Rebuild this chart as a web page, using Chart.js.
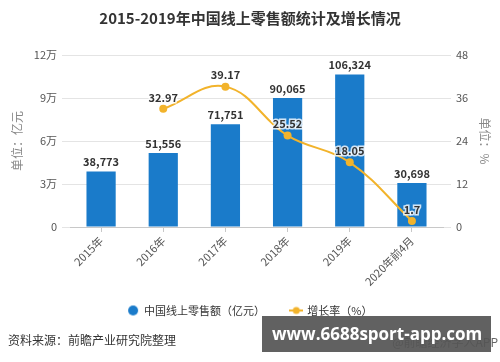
<!DOCTYPE html>
<html>
<head>
<meta charset="utf-8">
<script src="https://cdn.jsdelivr.net/npm/chart.js@4/dist/chart.umd.min.js"></script>
<style>
  html, body { margin: 0; padding: 0; background: #fff; }
  #wrap { position: relative; width: 500px; height: 362px; }
  #source { position: absolute; left: 8px; top: 331px; font: 12px "Noto Sans CJK SC", sans-serif; color: #333; }
  #brand { position: absolute; right: 2px; top: 333px; font: 12px "Noto Sans CJK SC", sans-serif; color: #666; }
  #mark { position: absolute; left: 262px; top: 316px; width: 229px; height: 36px; background: rgba(85,85,85,0.93);
          color: #fff; font: bold 17px "Open Sans", "DejaVu Sans", sans-serif; line-height: 36px; text-indent: 10px; }
</style>
</head>
<body>
<div id="wrap">
  <canvas id="chart" width="500" height="362"></canvas>
  <div id="source">资料来源：前瞻产业研究院整理</div>
  <div id="brand">@前瞻经济学人APP</div>
  <div id="mark">www.6688sport-app.com</div>
</div>
<script>
const years = ['2015年', '2016年', '2017年', '2018年', '2019年', '2020年前4月'];
const sales = [38773, 51556, 71751, 90065, 106324, 30698];
const growth = [null, 32.97, 39.17, 25.52, 18.05, 1.7];
const leftTicks = [0, 30000, 60000, 90000, 120000];
const rightTicks = [0, 12, 24, 36, 48];

const BLUE = '#1a7bca';
const GOLD = '#f2b32b';
const FONT = '"Noto Sans CJK SC", sans-serif';

// little legend markers
function markerCircle() {
    const c = document.createElement('canvas');
    c.width = 14; c.height = 12;
    const g = c.getContext('2d');
    g.fillStyle = BLUE;
    g.beginPath(); g.arc(7, 6, 5, 0, Math.PI * 2); g.fill();
    return c;
}
function markerLine() {
    const c = document.createElement('canvas');
    c.width = 14; c.height = 12;
    const g = c.getContext('2d');
    g.strokeStyle = GOLD; g.lineWidth = 2;
    g.beginPath(); g.moveTo(0, 6); g.lineTo(14, 6); g.stroke();
    g.fillStyle = GOLD;
    g.beginPath(); g.arc(7, 6, 3.5, 0, Math.PI * 2); g.fill();
    return c;
}

const valueLabels = {
    id: 'valueLabels',
    afterDatasetsDraw(chart) {
        const ctx = chart.ctx;
        ctx.save();
        ctx.font = 'bold 11px ' + FONT;
        ctx.textAlign = 'center';
        ctx.textBaseline = 'bottom';
        chart.getDatasetMeta(0).data.forEach((bar, i) => {
            ctx.fillStyle = '#333';
            ctx.fillText(sales[i].toLocaleString('en-US'), bar.x, bar.y - 4);
        });
        chart.getDatasetMeta(1).data.forEach((pt, i) => {
            if (growth[i] == null) return;
            ctx.lineWidth = 3;
            ctx.strokeStyle = 'rgba(255,255,255,0.8)';
            ctx.strokeText(String(growth[i]), pt.x, pt.y - 6);
            ctx.fillStyle = '#333';
            ctx.fillText(String(growth[i]), pt.x, pt.y - 6);
        });
        ctx.restore();
    }
};

new Chart(document.getElementById('chart'), {
    data: {
        labels: years,
        datasets: [
            {
                type: 'bar', label: '中国线上零售额（亿元）', data: sales, yAxisID: 'y',
                backgroundColor: BLUE, barPercentage: 0.47, categoryPercentage: 1, order: 2
            },
            {
                type: 'line', label: '增长率（%）', data: growth, yAxisID: 'y1',
                borderColor: GOLD, backgroundColor: GOLD, borderWidth: 2, tension: 0.4,
                pointRadius: 4, pointHoverRadius: 4, pointBorderWidth: 0, order: 1
            }
        ]
    },
    options: {
        responsive: false,
        animation: false,
        layout: { padding: { left: 0, right: 0, top: 0, bottom: 36 } },
        plugins: {
            title: {
                display: true, text: '2015-2019年中国线上零售额统计及增长情况',
                color: '#333', font: { family: FONT, size: 15, weight: 'bold' },
                padding: { top: 9, bottom: 28 }
            },
            legend: {
                position: 'bottom',
                labels: {
                    color: '#333', font: { family: FONT, size: 11 }, padding: 18,
                    usePointStyle: true,
                    generateLabels: () => [
                        // trailing spaces widen the gap before the second item
                        { text: '中国线上零售额（亿元）\u2002\u2009', pointStyle: markerCircle(), fontColor: '#333', datasetIndex: 0, lineWidth: 0 },
                        { text: '增长率（%）', pointStyle: markerLine(), fontColor: '#333', datasetIndex: 1, lineWidth: 0 }
                    ]
                }
            },
            tooltip: { enabled: false }
        },
        scales: {
            x: {
                offset: true,
                grid: { display: true, drawOnChartArea: false, offset: false, tickLength: 5, color: '#c8c8c8' },
                border: { color: '#c8c8c8' },
                ticks: { color: '#555', font: { family: FONT, size: 11 }, maxRotation: 45, minRotation: 45, padding: 2 },
                afterFit: s => { s.height = 60; }
            },
            y: {
                position: 'left', min: 0, max: 120000,
                afterBuildTicks: s => { s.ticks = leftTicks.map(v => ({ value: v })); },
                grid: { color: '#e4e4e4', tickLength: 8 },
                border: { display: false },
                ticks: { color: '#555', font: { family: FONT, size: 11 }, padding: 5,
                         callback: v => v === 0 ? '0' : (v / 10000) + '万' },
                title: { display: true, text: '单位：亿元', color: '#888', font: { family: FONT, size: 12 }, padding: { top: 10, bottom: 0 } },
                afterFit: s => { s.width = 70; }
            },
            y1: {
                position: 'right', min: 0, max: 48,
                afterBuildTicks: s => { s.ticks = rightTicks.map(v => ({ value: v })); },
                grid: { drawOnChartArea: false, color: '#e4e4e4', tickLength: 8 },
                border: { display: false },
                ticks: { color: '#555', font: { family: FONT, size: 11 }, padding: 5 },
                title: { display: true, text: '单位：%', color: '#888', font: { family: FONT, size: 12 }, padding: { top: 8, bottom: 0 } },
                afterFit: s => { s.width = 57; }
            }
        }
    },
    plugins: [valueLabels]
});
</script>
</body>
</html>
